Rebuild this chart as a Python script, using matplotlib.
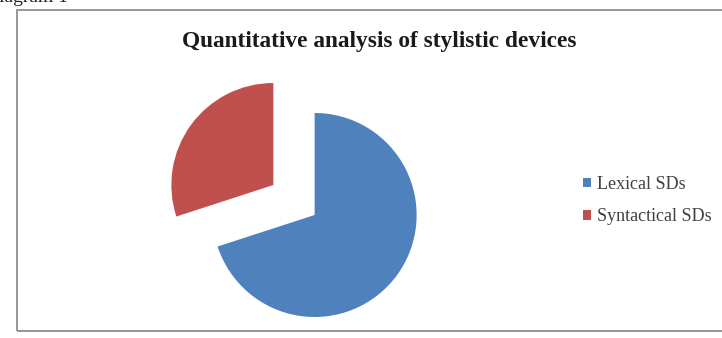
import matplotlib.pyplot as plt
from matplotlib.patches import Rectangle

# data
labels = ["Lexical SDs", "Syntactical SDs"]
values = [70, 30]
colors = ["#4F81BD", "#C0504D"]
explode = [0.25, 0.25]  # fraction of radius

W, H = 722, 338
R = 102  # pie radius in px
fig = plt.figure(figsize=(W / 100, H / 100), dpi=100)

# chart frame (pixel coords)
frame = Rectangle((17 / W, 1 - 331 / H), (W + 10 - 17) / W, (331 - 10) / H,
                  transform=fig.transFigure, fill=False,
                  edgecolor="#8f8f8f", linewidth=1.3)
fig.patches.append(frame)

ax = fig.add_axes([0, 0, 1, 1])
wedges, _ = ax.pie(values, colors=colors, explode=[e * R for e in explode],
                   startangle=90, counterclock=False,
                   center=(294, H - 200), radius=R, frame=True)
ax.set_xlim(0, W)
ax.set_ylim(0, H)
ax.set_aspect("equal")
ax.axis("off")

fig.text(379 / W, 1 - 42 / H, "Quantitative analysis of stylistic devices",
         ha="center", va="center", fontsize=16.8, fontweight="bold",
         family="Liberation Serif", color="#1a1a1a")

# cut-off caption at top left
fig.text(68 / W, 1 - 2 / H, "Diagram 1", ha="right", va="baseline",
         fontsize=14, family="Liberation Serif", color="#222222")

leg = ax.legend(wedges, labels, loc="upper left",
                bbox_to_anchor=(583 / W, 1 - 176 / H),
                bbox_transform=fig.transFigure, frameon=False,
                prop={"family": "Liberation Serif", "size": 13},
                handlelength=0.45, handleheight=0.45, handletextpad=0.3,
                labelspacing=0.85, borderaxespad=0, borderpad=0)
for t in leg.get_texts():
    t.set_color("#404040")

fig.savefig("out.png", dpi=100)
